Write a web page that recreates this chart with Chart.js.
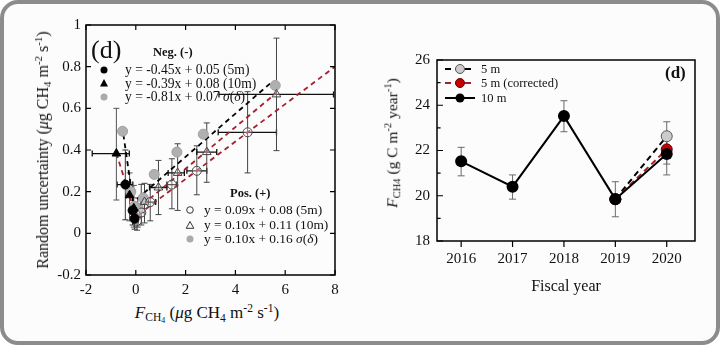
<!DOCTYPE html>
<html>
<head>
<meta charset="utf-8">
<script src="https://cdn.jsdelivr.net/npm/chart.js@4"></script>
<style>
  body { margin: 0; width: 720px; height: 345px; background: #fff; overflow: hidden; position: relative; }
  #frame { position: absolute; left: 0; top: 0; width: 712px; height: 337px; border: 4px solid #8c8c8c; border-radius: 18px; background: #fcfcfc; }
  .box { position: absolute; }
  .t { position: absolute; font-family: "Liberation Serif", "Times New Roman", serif; color: #111; white-space: nowrap; line-height: 1; }
  .t sub, .t sup { font-size: 0.68em; line-height: 0; }
  .t sub { vertical-align: -0.3em; }
  .t sup { vertical-align: 0.55em; }
  .rot { transform: translate(-50%, -50%) rotate(-90deg); }
  .ctr { transform: translate(-50%, -50%); }
  svg { position: absolute; overflow: visible; }
</style>
</head>
<body>
<div id="frame"></div>
<div class="box" style="left:0;top:0;width:345px;height:300px"><canvas id="left" width="345" height="300"></canvas></div>
<div class="box" style="left:360px;top:0;width:345px;height:300px"><canvas id="right" width="345" height="300"></canvas></div>

<!-- left panel text -->
<div class="t" style="left:91px;top:37px;font-size:26px">(d)</div>
<div class="t" style="left:153px;top:46px;font-size:12.5px;font-weight:bold">Neg. (-)</div>
<svg style="left:100px;top:66px" width="8" height="8"><circle cx="4" cy="4" r="3.5" fill="#000"/></svg>
<div class="t" style="left:125px;top:63px;font-size:13.6px">y = -0.45x + 0.05 (5m)</div>
<svg style="left:100px;top:79px" width="8" height="8"><polygon points="4,0 8,7.5 0,7.5" fill="#000"/></svg>
<div class="t" style="left:125px;top:77px;font-size:13.6px">y = -0.39x + 0.08 (10m)</div>
<svg style="left:100px;top:93px" width="8" height="8"><circle cx="4" cy="4" r="3.5" fill="#aaa"/></svg>
<div class="t" style="left:125px;top:90px;font-size:13.6px">y = -0.81x + 0.07 <i>σ</i>(<i>δ</i>)</div>

<div class="t" style="left:230px;top:187px;font-size:12.5px;font-weight:bold">Pos. (+)</div>
<svg style="left:186px;top:206px" width="8" height="8"><circle cx="4" cy="4" r="3.3" fill="none" stroke="#333" stroke-width="1"/></svg>
<div class="t" style="left:204px;top:203px;font-size:13.4px">y = 0.09x + 0.08 (5m)</div>
<svg style="left:186px;top:221px" width="8" height="8"><polygon points="4,0.5 7.8,7.3 0.2,7.3" fill="none" stroke="#333" stroke-width="1"/></svg>
<div class="t" style="left:204px;top:218px;font-size:13.4px">y = 0.10x + 0.11 (10m)</div>
<svg style="left:186px;top:235px" width="8" height="8"><circle cx="4" cy="4" r="3.5" fill="#aaa"/></svg>
<div class="t" style="left:204px;top:232px;font-size:13.4px">y = 0.10x + 0.16 <i>σ</i>(<i>δ</i>)</div>

<div class="t rot" style="left:43px;top:150px;font-size:16px">Random uncertainty (<i>μ</i>g CH<sub>4</sub> m<sup>-2</sup> s<sup>-1</sup>)</div>
<div class="t ctr" style="left:207px;top:313px;font-size:17px"><i>F</i><sub>CH<sub>4</sub></sub> (<i>μ</i>g CH<sub>4</sub> m<sup>-2</sup> s<sup>-1</sup>)</div>

<!-- right panel text -->
<svg style="left:445px;top:64px" width="30" height="10"><line x1="0" y1="5" x2="30" y2="5" stroke="#000" stroke-width="2" stroke-dasharray="6,4"/><circle cx="15" cy="5" r="4.5" fill="#ccc" stroke="#555" stroke-width="1"/></svg>
<div class="t" style="left:481px;top:63px;font-size:12.5px">5 m</div>
<svg style="left:445px;top:78px" width="30" height="10"><line x1="0" y1="5" x2="30" y2="5" stroke="#a31f2a" stroke-width="2" stroke-dasharray="6,4"/><circle cx="15" cy="5" r="4.5" fill="#c40000" stroke="#600" stroke-width="1"/></svg>
<div class="t" style="left:481px;top:77px;font-size:12.5px">5 m (corrected)</div>
<svg style="left:445px;top:93px" width="30" height="10"><line x1="0" y1="5" x2="30" y2="5" stroke="#000" stroke-width="2"/><circle cx="15" cy="5" r="4.5" fill="#000"/></svg>
<div class="t" style="left:481px;top:92px;font-size:12.5px">10 m</div>
<div class="t" style="left:665px;top:64px;font-size:17px;font-weight:bold">(d)</div>

<div class="t rot" style="left:392px;top:143px;font-size:15.5px"><i>F</i><sub>CH4</sub> (g C m<sup>-2</sup> year<sup>-1</sup>)</div>
<div class="t ctr" style="left:566px;top:286px;font-size:16px">Fiscal year</div>

<script>
// ---------- left panel: random uncertainty vs flux ----------
// Neg. (-) branch
const neg5x = [-0.42, -0.13, -0.05];
const neg5y = [0.234, 0.11, 0.07];
const neg5xLo = [-0.75, -0.24, -0.12];
const neg5xHi = [-0.12, -0.02, 0.02];
const neg5yLo = [0.065, 0.04, 0.02];
const neg5yHi = [0.40, 0.20, 0.13];

const neg10x = [-0.78, -0.25, -0.08];
const neg10y = [0.383, 0.183, 0.12];
const neg10xLo = [-1.75, -0.38, -0.18];
const neg10xHi = [-0.26, -0.09, 0.0];
const neg10yLo = [0.16, 0.06, 0.03];
const neg10yHi = [0.60, 0.29, 0.23];

const negSx = [-0.53, -0.2, -0.06];
const negSy = [0.49, 0.2, 0.13];

// Pos. (+) branch
const pos5x = [0.05, 0.22, 0.58, 1.45, 2.45, 4.49];
const pos5y = [0.06, 0.10, 0.15, 0.234, 0.30, 0.485];
const pos5xLo = [0.0, 0.1, 0.35, 1.25, 2.05, 3.31];
const pos5xHi = [0.1, 0.35, 0.8, 1.65, 2.85, 5.65];
const pos5yLo = [0.015, 0.04, 0.06, 0.118, 0.185, 0.29];
const pos5yHi = [0.12, 0.235, 0.235, 0.358, 0.42, 0.68];

const pos10x = [0.08, 0.35, 0.91, 1.68, 2.85, 5.65];
const pos10y = [0.09, 0.15, 0.22, 0.29, 0.39, 0.667];
const pos10xLo = [0.0, 0.2, 0.55, 1.3, 2.45, 3.34];
const pos10xHi = [0.15, 0.5, 1.25, 1.95, 3.25, 7.94];
const pos10yLo = [0.03, 0.05, 0.09, 0.11, 0.245, 0.397];
const pos10yHi = [0.17, 0.24, 0.35, 0.43, 0.53, 0.937];

const posSx = [0.1, 0.3, 0.74, 1.65, 2.71, 5.6];
const posSy = [0.12, 0.17, 0.283, 0.39, 0.476, 0.71];

// fitted lines (end points)
const fitSigNegX = [-0.5, -0.08], fitSigNegY = [0.475, 0.13];
const fitSigPosX = [0.05, 5.45], fitSigPosY = [0.165, 0.725];
const fit10NegX = [-0.78, -0.12], fit10NegY = [0.385, 0.13];
const fit10PosX = [0.0, 5.65], fit10PosY = [0.11, 0.675];
const fit5PosX = [0.1, 8.0], fit5PosY = [0.09, 0.8];

const xTicksLeft = [-2, 0, 2, 4, 6, 8];
const yTicksLeft = [-0.2, 0, 0.2, 0.4, 0.6, 0.8, 1];

// ---------- right panel: annual flux ----------
const years = [2016, 2017, 2018, 2019, 2020];
const flux10 = [21.52, 20.4, 23.52, 19.85, 21.85];
const flux10Lo = [20.88, 19.85, 22.83, 19.07, 20.92];
const flux10Hi = [22.14, 20.92, 24.2, 20.62, 22.8];
const flux5 = [null, null, null, 19.85, 22.63];
const flux5Lo = [null, null, null, 19.85, 22.03];
const flux5Hi = [null, null, null, 19.85, 23.27];
const flux5c = [null, null, null, 19.85, 22.05];
const flux5cLo = [null, null, null, 19.85, 21.4];
const flux5cHi = [null, null, null, 19.85, 22.7];
const yTicksRight = [18, 20, 22, 24, 26];
const yMinorRight = [19, 21, 23, 25];

const RED = '#a31f2a';
const FONT = '"Liberation Serif", "Times New Roman", serif';

const pts = (xs, ys) => xs.map((x, i) => ({ x: x, y: ys[i] }));
const pairs = (lo, hi) => lo.map((l, i) => [l, hi[i]]);

// error bars drawn through the chart scales
const errorBars = {
  id: 'errorBars',
  beforeDatasetsDraw(chart) {
    const ctx = chart.ctx;
    chart.data.datasets.forEach((ds, i) => {
      if (!ds.errX && !ds.errY) return;
      const meta = chart.getDatasetMeta(i);
      const xs = chart.scales[meta.xAxisID], ys = chart.scales[meta.yAxisID];
      const cap = ds.errCap || 3;
      ctx.save();
      ctx.lineWidth = ds.errWidth || 1;
      ds.data.forEach((p, j) => {
        if (p.y == null) return;
        const px = xs.getPixelForValue(p.x), py = ys.getPixelForValue(p.y);
        if (ds.errY && ds.errY[j][0] != null) {
          const a = ys.getPixelForValue(ds.errY[j][0]), b = ys.getPixelForValue(ds.errY[j][1]);
          ctx.strokeStyle = ds.errColor || '#333';
          ctx.beginPath();
          ctx.moveTo(px, a); ctx.lineTo(px, b);
          ctx.moveTo(px - cap, a); ctx.lineTo(px + cap, a);
          ctx.moveTo(px - cap, b); ctx.lineTo(px + cap, b);
          ctx.stroke();
        }
        if (ds.errX) {
          const a = xs.getPixelForValue(ds.errX[j][0]), b = xs.getPixelForValue(ds.errX[j][1]);
          ctx.strokeStyle = ds.errXColor || '#111';
          ctx.lineWidth = 1.3;
          ctx.beginPath();
          ctx.moveTo(a, py); ctx.lineTo(b, py);
          ctx.moveTo(a, py - cap); ctx.lineTo(a, py + cap);
          ctx.moveTo(b, py - cap); ctx.lineTo(b, py + cap);
          ctx.stroke();
          ctx.lineWidth = ds.errWidth || 1;
        }
      });
      ctx.restore();
    });
  }
};

// box around plot + tick marks
const frameTicks = {
  id: 'frameTicks',
  afterDraw(chart, args, o) {
    const { ctx, chartArea: a } = chart;
    const x = chart.scales.x, y = chart.scales.y;
    ctx.save();
    ctx.strokeStyle = '#000';
    ctx.lineWidth = 1.5;
    ctx.strokeRect(a.left, a.top, a.right - a.left, a.bottom - a.top);
    ctx.lineWidth = 1.2;
    ctx.beginPath();
    (o.xTicks || []).forEach(v => {
      const px = x.getPixelForValue(v);
      if (o.xOut) { ctx.moveTo(px, a.bottom); ctx.lineTo(px, a.bottom + o.len); }
      else {
        ctx.moveTo(px, a.bottom); ctx.lineTo(px, a.bottom - o.len);
        ctx.moveTo(px, a.top); ctx.lineTo(px, a.top + o.len);
      }
    });
    (o.yTicks || []).forEach(v => {
      const py = y.getPixelForValue(v);
      ctx.moveTo(a.left, py); ctx.lineTo(a.left + o.len, py);
      if (o.both) { ctx.moveTo(a.right, py); ctx.lineTo(a.right - o.len, py); }
    });
    (o.yMinor || []).forEach(v => {
      const py = y.getPixelForValue(v);
      ctx.moveTo(a.left, py); ctx.lineTo(a.left + o.len * 0.6, py);
    });
    ctx.stroke();
    ctx.restore();
  }
};

Chart.register(errorBars, frameTicks);

const markerDs = (label, xs, ys, style) => Object.assign({
  label: label, data: pts(xs, ys), pointRadius: 4.5, borderWidth: 1, showLine: false
}, style);
const fitDs = (xs, ys, color) => ({
  type: 'line', data: pts(xs, ys), borderColor: color, borderWidth: 1.8,
  borderDash: [5, 4], pointRadius: 0, showLine: true, fill: false
});

new Chart(document.getElementById('left'), {
  type: 'scatter',
  data: {
    datasets: [
      markerDs('neg 5m', neg5x, neg5y, {
        pointStyle: 'circle', backgroundColor: '#000', borderColor: '#000',
        errX: pairs(neg5xLo, neg5xHi), errY: pairs(neg5yLo, neg5yHi), errColor: '#333'
      }),
      markerDs('neg 10m', neg10x, neg10y, {
        pointStyle: 'triangle', pointRadius: 5, backgroundColor: '#000', borderColor: '#000',
        errX: pairs(neg10xLo, neg10xHi), errY: pairs(neg10yLo, neg10yHi), errColor: '#555'
      }),
      markerDs('neg sigma', negSx, negSy, { backgroundColor: '#b0b0b0', borderColor: '#a0a0a0', pointRadius: 5 }),
      markerDs('pos 5m', pos5x, pos5y, {
        backgroundColor: 'rgba(255,255,255,0.3)', borderColor: '#444',
        errX: pairs(pos5xLo, pos5xHi), errY: pairs(pos5yLo, pos5yHi), errColor: '#444'
      }),
      markerDs('pos 10m', pos10x, pos10y, {
        pointStyle: 'triangle', pointRadius: 5, backgroundColor: 'rgba(255,255,255,0.3)', borderColor: '#444',
        errX: pairs(pos10xLo, pos10xHi), errY: pairs(pos10yLo, pos10yHi), errColor: '#444'
      }),
      markerDs('pos sigma', posSx, posSy, { backgroundColor: '#b0b0b0', borderColor: '#a0a0a0', pointRadius: 5 }),
      fitDs(fitSigNegX, fitSigNegY, '#000'),
      fitDs(fitSigPosX, fitSigPosY, '#000'),
      fitDs(fit10NegX, fit10NegY, RED),
      fitDs(fit10PosX, fit10PosY, RED),
      fitDs(fit5PosX, fit5PosY, RED)
    ]
  },
  options: {
    responsive: false, animation: false,
    layout: { padding: { top: 25, right: 10, left: 0, bottom: 0 } },
    plugins: {
      legend: { display: false }, tooltip: { enabled: false },
      frameTicks: { xTicks: xTicksLeft, yTicks: yTicksLeft, len: 5, both: true }
    },
    scales: {
      x: {
        type: 'linear', min: -2, max: 8,
        afterBuildTicks: s => { s.ticks = xTicksLeft.map(v => ({ value: v })); },
        afterFit: s => { s.height = 25; },
        grid: { display: false, drawTicks: false }, border: { display: false },
        ticks: { padding: 6, color: '#111', font: { family: FONT, size: 15 } }
      },
      y: {
        type: 'linear', min: -0.2, max: 1,
        afterBuildTicks: s => { s.ticks = yTicksLeft.map(v => ({ value: v })); },
        afterFit: s => { s.width = 86; },
        grid: { display: false, drawTicks: false }, border: { display: false },
        ticks: { padding: 5, color: '#111', font: { family: FONT, size: 15 },
          callback: v => String(Math.round(v * 10) / 10) }
      }
    }
  }
});

new Chart(document.getElementById('right'), {
  type: 'line',
  data: {
    datasets: [
      {
        label: '10 m', data: pts(years, flux10), order: 1,
        borderColor: '#000', backgroundColor: '#000', borderWidth: 2,
        pointRadius: 6, pointBorderWidth: 0,
        errY: pairs(flux10Lo, flux10Hi), errColor: '#6a6a6a', errCap: 3.5
      },
      {
        label: '5 m (corrected)', data: pts(years, flux5c), order: 2,
        borderColor: RED, backgroundColor: '#c40000', pointBorderColor: '#600', borderWidth: 2,
        borderDash: [6, 4], pointRadius: 5.5, pointBorderWidth: 1,
        errY: pairs(flux5cLo, flux5cHi), errColor: '#6a6a6a', errCap: 3.5
      },
      {
        label: '5 m', data: pts(years, flux5), order: 3,
        borderColor: '#000', backgroundColor: '#ccc', pointBorderColor: '#555', borderWidth: 2,
        borderDash: [6, 4], pointRadius: 5.5, pointBorderWidth: 1,
        errY: pairs(flux5Lo, flux5Hi), errColor: '#6a6a6a', errCap: 3.5
      }
    ]
  },
  options: {
    responsive: false, animation: false,
    layout: { padding: { top: 60, right: 10, left: 0, bottom: 0 } },
    plugins: {
      legend: { display: false }, tooltip: { enabled: false },
      frameTicks: { xTicks: years, xOut: true, yTicks: yTicksRight, yMinor: yMinorRight, len: 6 }
    },
    scales: {
      x: {
        type: 'linear', min: 2015.53, max: 2020.55,
        afterBuildTicks: s => { s.ticks = years.map(v => ({ value: v })); },
        afterFit: s => { s.height = 59; },
        grid: { display: false, drawTicks: false }, border: { display: false },
        ticks: { padding: 9, color: '#111', font: { family: FONT, size: 15 }, callback: v => String(v) }
      },
      y: {
        type: 'linear', min: 18, max: 26,
        afterBuildTicks: s => { s.ticks = yTicksRight.map(v => ({ value: v })); },
        afterFit: s => { s.width = 77; },
        grid: { display: false, drawTicks: false }, border: { display: false },
        ticks: { padding: 7, color: '#111', font: { family: FONT, size: 15 } }
      }
    }
  }
});
</script>
</body>
</html>
